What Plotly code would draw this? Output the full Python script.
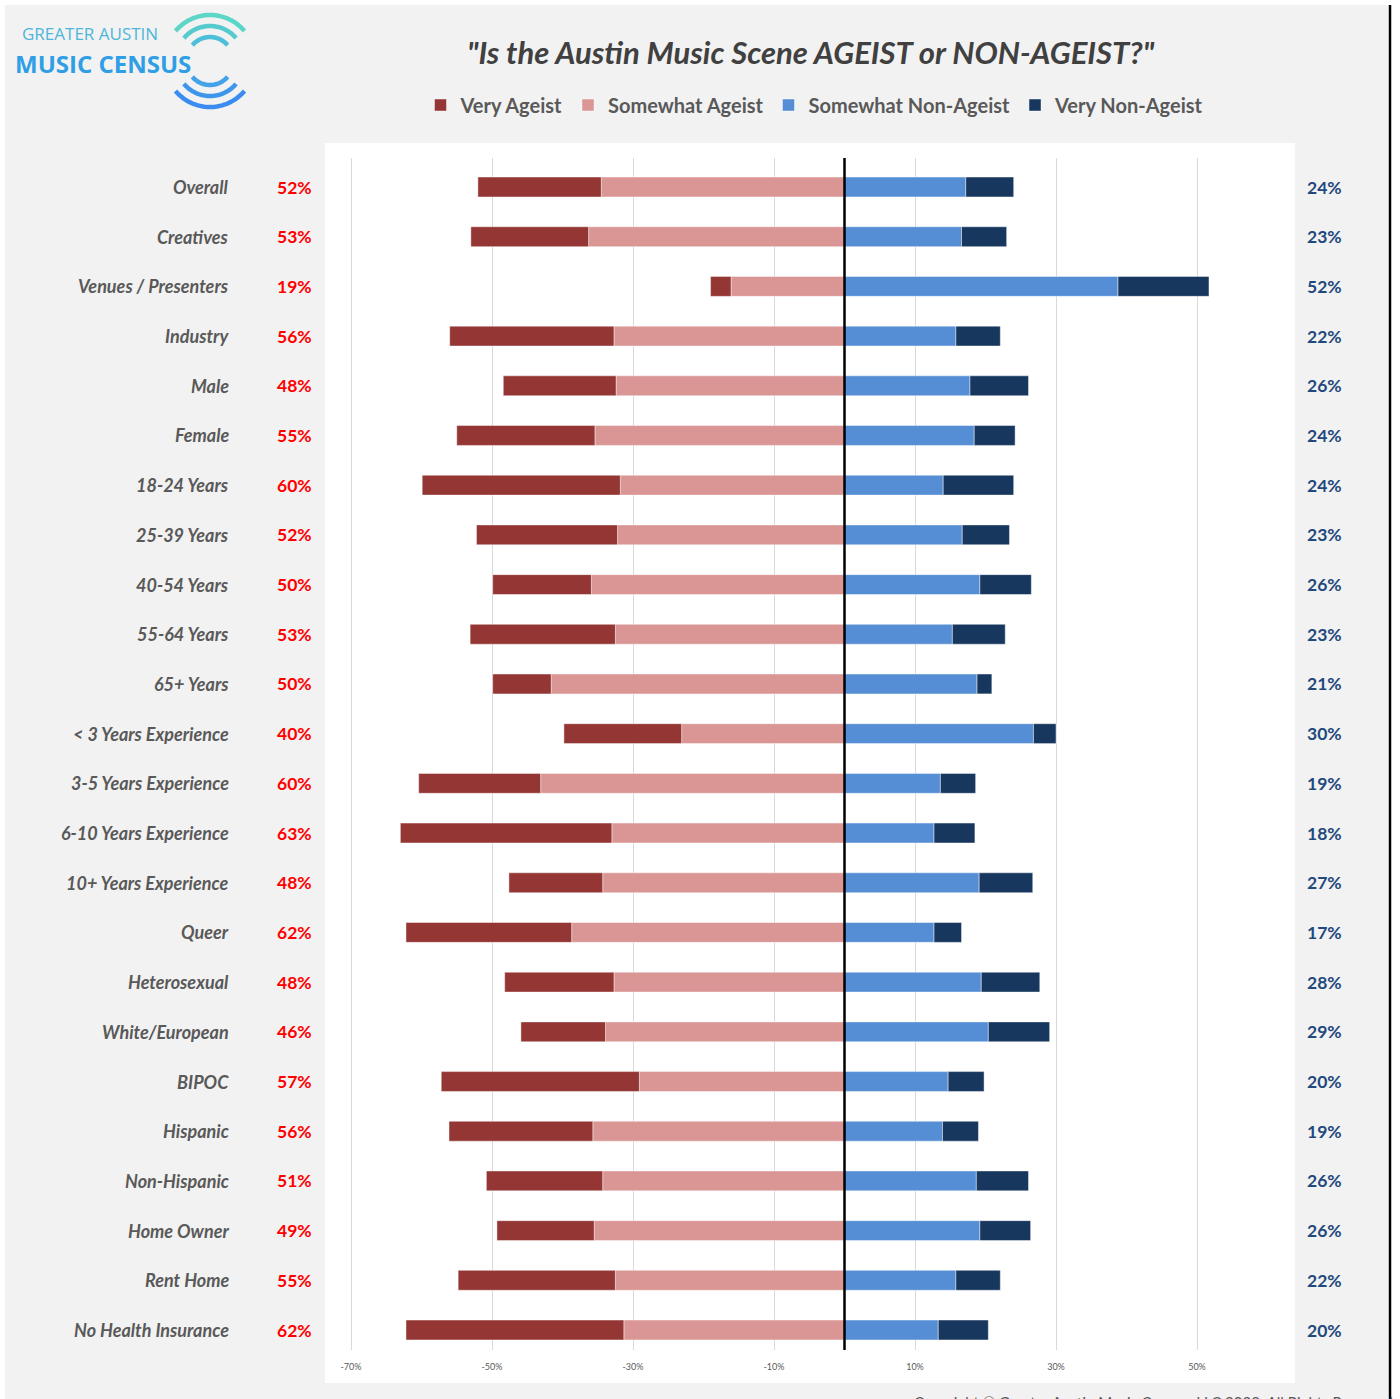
import numpy as np
import plotly.graph_objects as go

categories = ["Overall", "Creatives", "Venues / Presenters", "Industry", "Male", "Female",
              "18-24 Years", "25-39 Years", "40-54 Years", "55-64 Years", "65+ Years",
              "< 3 Years Experience", "3-5 Years Experience", "6-10 Years Experience",
              "10+ Years Experience", "Queer", "Heterosexual", "White/European", "BIPOC",
              "Hispanic", "Non-Hispanic", "Home Owner", "Rent Home", "No Health Insurance"]
very_ageist = [17.5, 16.7, 2.9, 23.3, 16.0, 19.6, 28.1, 20.0, 14.0, 20.6, 8.3, 16.7,
               17.3, 30.0, 13.3, 23.5, 15.5, 12.0, 28.1, 20.4, 16.5, 13.8, 22.3, 30.9]
somewhat_ageist = [34.5, 36.3, 16.1, 32.7, 32.4, 35.4, 31.8, 32.2, 35.9, 32.5, 41.6, 23.1,
                   43.1, 33.0, 34.3, 38.7, 32.7, 33.9, 29.1, 35.7, 34.3, 35.5, 32.5, 31.3]
somewhat_non_ageist = [17.2, 16.6, 38.8, 15.8, 17.8, 18.4, 14.0, 16.7, 19.2, 15.3, 18.8, 26.8,
                       13.6, 12.7, 19.1, 12.7, 19.4, 20.4, 14.7, 13.9, 18.7, 19.2, 15.8, 13.3]
very_non_ageist = [6.8, 6.4, 12.9, 6.3, 8.3, 5.8, 10.0, 6.7, 7.3, 7.5, 2.1, 3.2,
                   5.0, 5.8, 7.6, 3.9, 8.3, 8.7, 5.1, 5.1, 7.4, 7.2, 6.3, 7.1]
ageist_total_labels = ["52%", "53%", "19%", "56%", "48%", "55%", "60%", "52%", "50%", "53%",
                       "50%", "40%", "60%", "63%", "48%", "62%", "48%", "46%", "57%", "56%",
                       "51%", "49%", "55%", "62%"]
non_ageist_total_labels = ["24%", "23%", "52%", "22%", "26%", "24%", "24%", "23%", "26%", "23%",
                           "21%", "30%", "19%", "18%", "27%", "17%", "28%", "29%", "20%", "19%",
                           "26%", "26%", "22%", "20%"]
tick_values = [-70, -50, -30, -10, 10, 30, 50]
tick_labels = ["-70%", "-50%", "-30%", "-10%", "10%", "30%", "50%"]

# ---- layout geometry (pixels) ----
W, H = 1400, 1399
PL, PR, PT, PB = 325, 1295, 158, 1350   # plot area
ZERO_PX, PX_PER_PCT = 844.5, 7.05


def fx(p):
    return (p - PL) / (PR - PL)


def fy(p):
    return (PB - p) / (PB - PT)


x_range = [(PL - ZERO_PX) / PX_PER_PCT, (PR - ZERO_PX) / PX_PER_PCT]
row_gap = (1330 - 187) / 23
y_range = [23 + (PB - 1330) / row_gap, -(187 - PT) / row_gap]

FONT = "Lato"
col_very_a = "#943634"
col_some_a = "#D99694"
col_some_n = "#558ED5"
col_very_n = "#17375E"

fig = go.Figure()
line = dict(width=0.8, color="rgba(255,255,255,0.55)")
fig.add_trace(go.Bar(y=categories, x=[-v for v in somewhat_ageist], orientation="h",
                     name="Somewhat Ageist", marker=dict(color=col_some_a, line=line),
                     legendrank=2, width=0.4))
fig.add_trace(go.Bar(y=categories, x=[-v for v in very_ageist], orientation="h",
                     name="Very Ageist", marker=dict(color=col_very_a, line=line),
                     legendrank=1, width=0.4))
fig.add_trace(go.Bar(y=categories, x=somewhat_non_ageist, orientation="h",
                     name="Somewhat Non-Ageist", marker=dict(color=col_some_n, line=line),
                     legendrank=3, width=0.4))
fig.add_trace(go.Bar(y=categories, x=very_non_ageist, orientation="h",
                     name="Very Non-Ageist", marker=dict(color=col_very_n, line=line),
                     legendrank=4, width=0.4))

annotations = []
for c, lt, rt in zip(categories, ageist_total_labels, non_ageist_total_labels):
    annotations.append(dict(x=fx(231), xref="paper", y=c, yref="y", text=c, showarrow=False,
                            xanchor="right", yanchor="middle",
                            font=dict(family=FONT, size=18, color="#595959",
                                      weight="bold", style="italic")))
    annotations.append(dict(x=fx(314), xref="paper", y=c, yref="y", text=lt, showarrow=False,
                            xanchor="right", yanchor="middle",
                            font=dict(family=FONT, size=17.5, color="#FF0000", weight="bold")))
    annotations.append(dict(x=fx(1305), xref="paper", y=c, yref="y", text=rt, showarrow=False,
                            xanchor="left", yanchor="middle",
                            font=dict(family=FONT, size=17.5, color="#1F497D", weight="bold")))

# title
annotations.append(dict(x=fx(811), y=fy(52), xref="paper", yref="paper", showarrow=False,
                        text="\"Is the Austin Music Scene AGEIST or NON-AGEIST?\"",
                        xanchor="center", yanchor="middle",
                        font=dict(family=FONT, size=31, color="#404040",
                                  weight="bold", style="italic")))
# logo text
annotations.append(dict(x=fx(20), y=fy(34), xref="paper", yref="paper", showarrow=False,
                        text="GREATER AUSTIN", xanchor="left", yanchor="middle",
                        font=dict(family="Open Sans", size=17, color="#4DB6DA")))
annotations.append(dict(x=fx(13), y=fy(63), xref="paper", yref="paper", showarrow=False,
                        text="MUSIC CENSUS", xanchor="left", yanchor="middle",
                        font=dict(family="Open Sans", size=24, color="#2E9FE6", weight="bold")))
# footer (cut off at bottom edge, as in the original)
annotations.append(dict(x=fx(912), y=fy(1402), xref="paper", yref="paper", showarrow=False,
                        text="Copyright © Greater Austin Music Census, LLC 2022. All Rights Reserved",
                        xanchor="left", yanchor="middle",
                        font=dict(family=FONT, size=15, color="#595959")))

shapes = [
    dict(type="rect", xref="paper", yref="paper", x0=fx(5), x1=fx(1388), y0=fy(5), y1=fy(H + 5),
         fillcolor="#F2F2F2", line=dict(width=0), layer="below"),
    dict(type="rect", xref="paper", yref="paper", x0=fx(325), x1=fx(1295), y0=fy(143), y1=fy(1383),
         fillcolor="#FFFFFF", line=dict(width=0), layer="below"),
    dict(type="line", xref="paper", yref="paper", x0=fx(1390), x1=fx(1390), y0=fy(5), y1=fy(H + 5),
         line=dict(color="#000000", width=2.5)),
    dict(type="line", xref="x", yref="paper", x0=0, x1=0, y0=0, y1=1,
         line=dict(color="#000000", width=2.5), layer="above"),
]


# logo arcs
def arc_path(cx, cy, r, a0, a1):
    t = np.radians(np.linspace(a0, a1, 40))
    xs = cx + r * np.cos(t)
    ys = cy - r * np.sin(t)
    pts = [f"{fx(x):.5f},{fy(y):.5f}" for x, y in zip(xs, ys)]
    return "M " + " L ".join(pts)


for r, col in [(45, "#5CD6C6"), (34, "#55CBCF"), (23, "#4DBFD8")]:
    shapes.append(dict(type="path", xref="paper", yref="paper", path=arc_path(210, 60, r, 40, 140),
                       line=dict(color=col, width=4.5)))
for r, col in [(45, "#3A8CF0"), (34, "#3E96EC"), (23, "#44A2E8")]:
    shapes.append(dict(type="path", xref="paper", yref="paper", path=arc_path(210, 62, r, 220, 320),
                       line=dict(color=col, width=4.5)))

fig.update_layout(
    width=W, height=H,
    margin=dict(l=PL, r=W - PR, t=PT, b=H - PB, pad=0),
    paper_bgcolor="#FFFFFF", plot_bgcolor="#FFFFFF",
    barmode="relative", bargap=0.6,
    showlegend=True,
    legend=dict(orientation="h", x=fx(815), y=fy(105), xanchor="center", yanchor="middle",
                font=dict(family=FONT, size=20, color="#595959", weight="bold"),
                bgcolor="rgba(0,0,0,0)", traceorder="normal", itemwidth=30,
                itemclick=False),
    xaxis=dict(range=x_range, tickvals=tick_values, ticktext=tick_labels,
               showgrid=True, gridcolor="#D9D9D9", gridwidth=1, zeroline=False,
               ticks="outside", ticklen=8, tickcolor="rgba(0,0,0,0)",
               tickfont=dict(family=FONT, size=9, color="#595959"), fixedrange=True),
    yaxis=dict(type="category", categoryorder="array", categoryarray=categories,
               range=y_range, showticklabels=False, showgrid=False, zeroline=False,
               fixedrange=True),
    annotations=annotations,
    shapes=shapes,
)

fig.write_html("out.html", config={"displayModeBar": False},
               post_script="document.body.style.margin='0';")
